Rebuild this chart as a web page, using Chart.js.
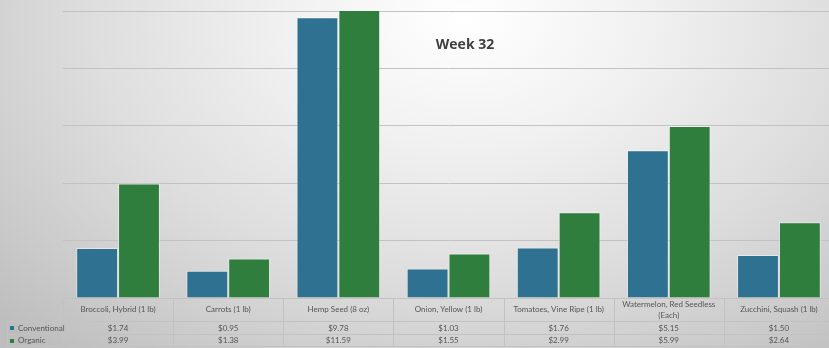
<!DOCTYPE html>
<html>
<head>
<meta charset="utf-8">
<title>Week 32</title>
<script src="https://cdn.jsdelivr.net/npm/chart.js@4.4.1/dist/chart.umd.min.js"></script>
<style>
  html, body {
    margin: 0;
    padding: 0;
    width: 829px;
    height: 348px;
    overflow: hidden;
  }
  body {
    background: radial-gradient(ellipse 640px 440px at 465px 20px, #ffffff 0%, #f1f1f1 28%, #dedede 58%, #cccccc 82%, #bdbdbd 100%);
  }
  #wrap {
    position: absolute;
    left: 0;
    top: 0;
    width: 840px;
    height: 348px;
  }
</style>
</head>
<body>
<div id="wrap"><canvas id="weekChart"></canvas></div>
<script>
const categories = [
  "Broccoli, Hybrid (1 lb)",
  "Carrots (1 lb)",
  "Hemp Seed (8 oz)",
  "Onion, Yellow (1 lb)",
  "Tomatoes, Vine Ripe (1 lb)",
  ["Watermelon, Red Seedless", "(Each)"],
  "Zucchini, Squash (1 lb)"
];
const conventional = [1.74, 0.95, 9.78, 1.03, 1.76, 5.15, 1.50];
const organic = [3.99, 1.38, 11.59, 1.55, 2.99, 5.99, 2.64];
const seriesNames = ["Conventional", "Organic"];
const seriesColors = ["#2e7191", "#307e3d"];

const TEXT = "#555555";
const LINE = "#c2c2c2";
const FONT = "8px Lato, 'Open Sans', sans-serif";

// data table under the plot: category header row + one row per series
const dataTable = {
  id: "dataTable",
  afterDraw(chart) {
    const { ctx, chartArea, scales } = chart;
    const x = scales.x;
    const left = chartArea.left;
    const right = chartArea.right;
    const top = chartArea.bottom;
    const rowHead = top + 23;
    const row1 = rowHead + 13;
    const row2 = row1 + 12;
    const labelLeft = 7;
    const colW = (right - left) / categories.length;

    ctx.save();
    ctx.strokeStyle = LINE;
    ctx.lineWidth = 1;
    ctx.beginPath();
    ctx.moveTo(left, top + 0.5); ctx.lineTo(right, top + 0.5);
    [rowHead, row1, row2].forEach(y => {
      ctx.moveTo(labelLeft, y + 0.5); ctx.lineTo(right, y + 0.5);
    });
    ctx.moveTo(labelLeft + 0.5, rowHead); ctx.lineTo(labelLeft + 0.5, row2);
    for (let i = 0; i <= categories.length; i++) {
      const cx = Math.round(left + i * colW) + 0.5;
      ctx.moveTo(cx, top); ctx.lineTo(cx, row2);
    }
    ctx.stroke();

    ctx.font = FONT;
    ctx.fillStyle = TEXT;
    ctx.textAlign = "center";
    ctx.textBaseline = "middle";
    categories.forEach((c, i) => {
      const cx = x.getPixelForValue(i);
      const lines = Array.isArray(c) ? c : [c];
      const mid = (top + rowHead) / 2;
      lines.forEach((l, j) => {
        ctx.fillText(l, cx, mid + (j - (lines.length - 1) / 2) * 11);
      });
      ctx.fillText("$" + conventional[i].toFixed(2), cx, (rowHead + row1) / 2 + 0.5);
      ctx.fillText("$" + organic[i].toFixed(2), cx, (row1 + row2) / 2 + 0.5);
    });

    // legend keys in the row headers
    ctx.textAlign = "left";
    [[rowHead, row1], [row1, row2]].forEach(([a, b], k) => {
      const my = (a + b) / 2 + 0.5;
      ctx.fillStyle = seriesColors[k];
      ctx.fillRect(10, Math.round(my) - 2, 4, 4);
      ctx.fillStyle = TEXT;
      ctx.fillText(seriesNames[k], 18, my);
    });
    ctx.restore();
  }
};

// chart title laid over the plot area
const overlayTitle = {
  id: "overlayTitle",
  afterDraw(chart) {
    const { ctx } = chart;
    ctx.save();
    ctx.font = "bold 14px 'Open Sans', Lato, sans-serif";
    ctx.fillStyle = "#404040";
    ctx.textAlign = "center";
    ctx.textBaseline = "middle";
    ctx.fillText("Week 32", 465, 45);
    ctx.restore();
  }
};

new Chart(document.getElementById("weekChart"), {
  type: "bar",
  data: {
    labels: categories,
    datasets: [
      {
        label: seriesNames[0],
        data: conventional,
        backgroundColor: seriesColors[0],
        borderColor: "rgba(255,255,255,0.45)",
        borderWidth: 1
      },
      {
        label: seriesNames[1],
        data: organic,
        backgroundColor: seriesColors[1],
        borderColor: "rgba(255,255,255,0.45)",
        borderWidth: 1
      }
    ]
  },
  options: {
    responsive: true,
    maintainAspectRatio: false,
    animation: false,
    datasets: {
      bar: {
        categoryPercentage: 0.76,
        barPercentage: 1
      }
    },
    layout: {
      padding: { left: 63, right: 6, top: 11, bottom: 50 }
    },
    plugins: {
      legend: { display: false },
      title: { display: false },
      tooltip: { enabled: false }
    },
    scales: {
      x: {
        display: false
      },
      y: {
        min: 0,
        max: 10,
        display: true,
        border: { display: false },
        ticks: { display: false, stepSize: 2 },
        grid: { color: LINE, lineWidth: 1, drawTicks: false }
      }
    }
  },
  plugins: [dataTable, overlayTitle]
});
</script>
</body>
</html>
